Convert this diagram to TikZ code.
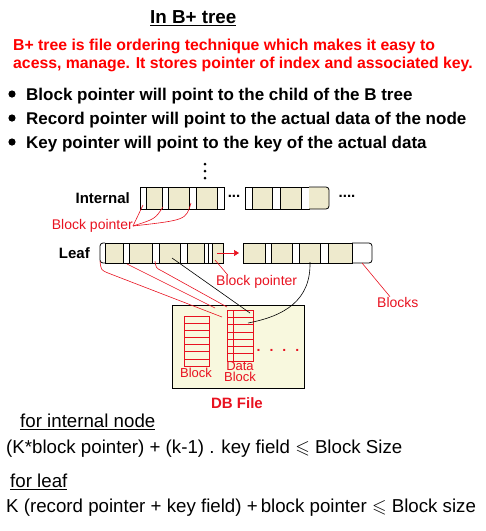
\documentclass[tikz,border=0pt]{standalone}
\usepackage{amssymb}
\usepackage{fontspec}
\setmainfont{Liberation Sans}
\usetikzlibrary{arrows.meta,positioning}
\definecolor{cellfill}{RGB}{238,234,205}
\definecolor{dbfill}{RGB}{248,248,222}
\definecolor{ptrred}{RGB}{232,18,32}

\begin{document}
\begin{tikzpicture}[x=1pt,y=-1pt,
 blk/.style={draw=black,line width=0.8pt},
 ptr/.style={draw=ptrred,line width=0.6pt},
 lab/.style={font=\fontsize{14}{16}\selectfont,text=ptrred,inner sep=0pt},
 hd/.style={font=\bfseries\fontsize{15}{17}\selectfont,inner sep=0pt},
 txt/.style={anchor=base west,inner sep=0pt},
 rule/.style={txt,font=\fontsize{18.7}{21}\selectfont}]
\useasboundingbox (0,0) rectangle (486,531);
% heading and notes
\node[txt,font=\bfseries\fontsize{18.8}{20}\selectfont] (title) at (150,23) {\underline{In B+ tree}};
\node[txt,text=red,font=\bfseries\fontsize{15.8}{18}\selectfont] (intro1) at (13,50)
 {B+ tree is file ordering technique which makes it easy to};
\node[txt,text=red,font=\bfseries\fontsize{15.8}{18}\selectfont] (intro2) at (13,68)
 {acess, manage. It stores pointer of index and associated key.};
\foreach \t [count=\i] in {Block pointer will point to the child of the B tree,
 Record pointer will point to the actual data of the node,
 Key pointer will point to the key of the actual data} {
 \fill (12,{70+24*\i}) circle (3.6);
 \node[txt,font=\bfseries\fontsize{17}{20}\selectfont] (bul\i) at (26,{76+24*\i}) {\t};
}
% internal nodes
\foreach \y in {164,171,178} \fill (205,\y) circle (1.5);
\node[hd,anchor=east] (internal) at (130,198) {Internal};
\foreach \a/\b in {146/162,168/189,196/217,252/272,280/301} \fill[cellfill] (\a,187) rectangle (\b,209);
\draw[blk] (140,187) rectangle (224,209);
\foreach \v in {146,162,168,189,196,217} \draw[blk] (\v,187) -- (\v,209);
\draw[blk] (245,187) rectangle (309,209);
\foreach \v in {252,272,280,301} \draw[blk] (\v,187) -- (\v,209);
\filldraw[blk,fill=cellfill,rounded corners=3pt] (309,187) -- (329,187) -- (329,209) -- (309,209);
\node[hd] (idots) at (234,196) {...};
\node[hd] (idots2) at (347,196) {....};
\coordinate (ip1) at (143,205);
\coordinate (ip2) at (163,207);
\coordinate (ip3) at (191,203);
\node[lab,anchor=east] (ibp) at (133,226) {Block pointer};
\draw[ptr] (ibp.east) .. controls (138,215) .. (ip1);
\draw[ptr] (ibp.east) .. controls (155,219) .. (ip2);
\draw[ptr] (ibp.east) .. controls (186,220) .. (ip3);
% leaf nodes
\node[hd,anchor=east] (leaf) at (90,253) {Leaf};
\foreach \a/\b in {105/123,129/152,159/180,187/204,212/223,243/265,271/292,299/320,328/352}
 \fill[cellfill] (\a,243) rectangle (\b,263);
\draw[blk,rounded corners=3pt] (105,243) -- (100,243) -- (100,263) -- (105,263);
\draw[blk] (105,243) rectangle (223,263);
\foreach \v in {123,129,152,159,180,187,204,208,212} \draw[blk] (\v,243) -- (\v,263);
\draw[blk] (243,243) rectangle (352,263);
\foreach \v in {265,271,292,299,320,328} \draw[blk] (\v,243) -- (\v,263);
\draw[blk,rounded corners=3pt] (352,243) -- (372,243) -- (372,263) -- (352,263);
\coordinate (nx1) at (217,253);
\coordinate (nx2) at (239,253);
\draw[ptr,-{Triangle[length=5pt,width=6pt]}] (nx1) -- (nx2);
% db file
\filldraw[fill=dbfill,draw=black,line width=0.9pt] (172,305) rectangle (304,388);
\draw[ptr] (184,316) rectangle (209,366);
\foreach \r in {1,...,6} \draw[ptr] (184,{316+\r*50/7}) -- (209,{316+\r*50/7});
\draw[ptr] (227,310) rectangle (253,361);
\draw[ptr] (233,310) -- (233,361);
\foreach \r in {1,...,6} \draw[ptr] (227,{310+\r*51/7}) -- (253,{310+\r*51/7});
\node[lab,font=\fontsize{13}{11}\selectfont] (blk) at (196,373) {Block};
\node[lab,font=\fontsize{13}{11}\selectfont,anchor=base] (dblk1) at (240,370) {Data};
\node[lab,font=\fontsize{13}{11}\selectfont,anchor=base] (dblk2) at (240,381.5) {Block};
\node[text=ptrred,font=\bfseries\fontsize{14}{14}\selectfont,inner sep=0pt] (dbdots) at (278,350) {.\hspace{9pt}.\hspace{9pt}.\hspace{9pt}.};
\node[lab,font=\bfseries\fontsize{15}{17}\selectfont] (dbfile) at (237,403) {DB File};
% pointers from leaf
\coordinate (lr1) at (100,261);
\coordinate (lr2) at (127,264);
\coordinate (lr3) at (155,261);
\coordinate (lk) at (172,258);
\coordinate (lb) at (310,262);
\coordinate (dt1) at (222,317);
\coordinate (dt2) at (215,308);
\coordinate (dt3) at (227,307);
\coordinate (dk1) at (250,313);
\coordinate (dk2) at (248,323);
\draw[ptr] (lr1) .. controls (101,270) .. (108,273) -- (dt1);
\draw[ptr] (lr2) -- (dt2);
\draw[ptr] (lr3) .. controls (156,268) .. (162,271) -- (dt3);
\draw[black,line width=0.6pt] (lk) -- (dk1);
\draw[black,line width=0.6pt] (lb) .. controls (311,300) and (285,316) .. (dk2);
\coordinate (lp) at (215,260);
\node[lab,anchor=west] (lbp) at (216,282) {Block pointer};
\draw[ptr] (lp) -- ([xshift=12pt]lbp.north west);
\coordinate (bk) at (362,263);
\node[lab,anchor=west] (blocks) at (377,302) {Blocks};
\draw[ptr] (bk) -- ([xshift=13pt]blocks.north west);
% size rules
\node[rule] (fin) at (20,427) {\underline{for internal node}};
\node[rule] (rin) at (6,453) {(K*block pointer) + (k-1) . key field $\leqslant$ Block Size};
\node[rule] (fleaf) at (10,487) {\underline{for leaf}};
\node[rule] (rleaf) at (6,512) {K (record pointer + key field) +\,block pointer $\leqslant$ Block size};
\end{tikzpicture}
\end{document}
